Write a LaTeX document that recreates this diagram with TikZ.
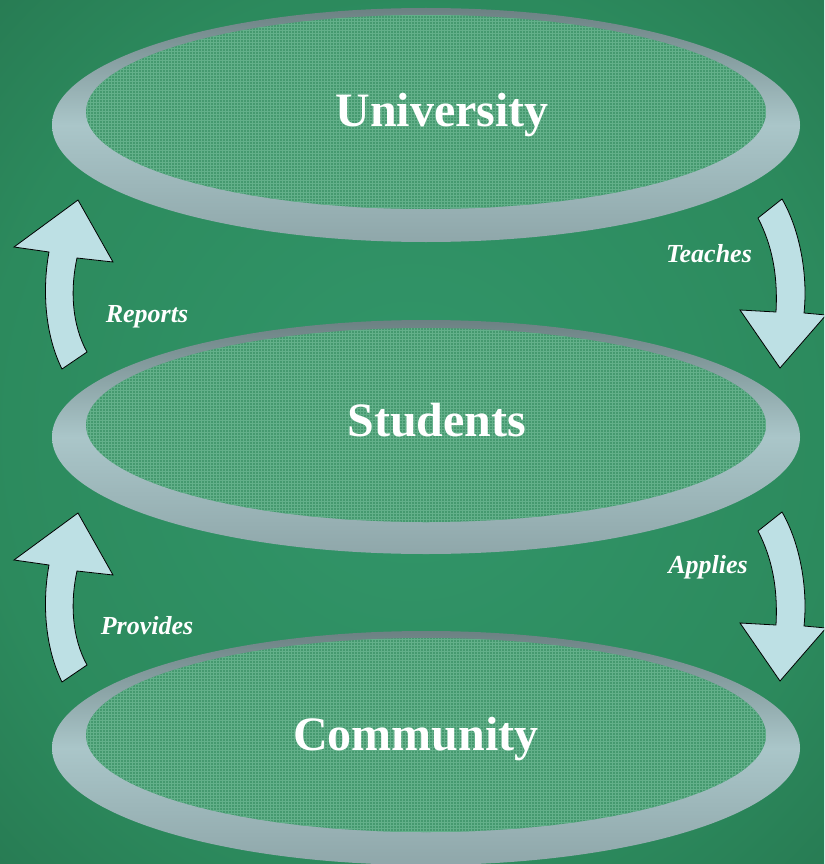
\documentclass[tikz,border=0pt]{standalone}
\usepackage{fontspec}
\setmainfont{Liberation Serif}
\usepackage{tikz}
\usepackage{xcolor}
\usetikzlibrary{shapes.geometric,patterns}
\definecolor{bglight}{HTML}{32966A}
\definecolor{bgmid}{HTML}{2C8A5D}
\definecolor{bgdark}{HTML}{216645}
\definecolor{ringdark}{HTML}{6C8183}
\definecolor{ringlight}{HTML}{AAC6C9}
\definecolor{ringmid}{HTML}{8FA7AA}
\definecolor{discgreen}{HTML}{45996F}
\definecolor{discline}{HTML}{63B08A}
\definecolor{arrowfill}{HTML}{BDE0E4}
\pgfdeclareradialshading{bg-glow}{\pgfpoint{0bp}{0bp}}{color(0bp)=(bglight); color(26bp)=(bgmid); color(50bp)=(bgdark)}
\tikzset{
    outer-ring/.style = {ellipse, inner sep=0pt, minimum width=748pt, minimum height=234pt, top color=ringdark, bottom color=ringmid, middle color=ringlight},
    inner-disc/.style = {ellipse, inner sep=0pt, minimum width=680pt, minimum height=194pt, fill=discgreen, postaction={pattern=grid, pattern color=discline}},
    stage-label/.style = {text=white, anchor=base, font=\fontsize{48}{56}\selectfont\bfseries},
    flow-label/.style = {text=white, anchor=base, font=\fontsize{26}{30}\selectfont\bfseries\itshape},
    flow-arrow/.style = {draw=black, fill=arrowfill, line width=0.8pt},
}

\begin{document}
\begin{tikzpicture}[x=1pt,y=-1pt]
\useasboundingbox (0,0) rectangle (824,864);
\shade[shading=bg-glow] (0,0) rectangle (824,864);
\clip (0,0) rectangle (824,864);

% the three levels
\node[outer-ring] (uni-ring) at (426,125) {};
\node[inner-disc] (uni-disc) at (426,112) {};
\node[stage-label] (uni) at (442,127) {University};

\node[outer-ring] (stu-ring) at (426,437) {};
\node[inner-disc] (stu-disc) at (426,425) {};
\node[stage-label] (stu) at (437,436) {Students};

\node[outer-ring] (com-ring) at (426,748) {};
\node[inner-disc] (com-disc) at (426,735) {};
\node[stage-label] (com) at (416,750) {Community};

% curved arrows, upper pair shifted down for the lower pair
\foreach \dy in {0,313} {
    \draw[flow-arrow, shift={(0,\dy)}] (78,200) -- (113,262) -- (77,258)
        .. controls (70,290) and (72,325) .. (87,352) -- (62,369)
        .. controls (45,335) and (42,290) .. (49,252) -- (14,247) -- cycle;
    \draw[flow-arrow, shift={(0,\dy)}] (758,218) -- (782,199)
        .. controls (800,230) and (808,275) .. (804,313) -- (826,315)
        -- (780,368) -- (740,310) -- (776,312)
        .. controls (778,275) and (772,245) .. (758,218) -- cycle;
}

\node[flow-label] (teaches) at (709,262) {Teaches};
\node[flow-label] (reports) at (147,322) {Reports};
\node[flow-label] (applies) at (708,573) {Applies};
\node[flow-label] (provides) at (147,634) {Provides};
\end{tikzpicture}
\end{document}
